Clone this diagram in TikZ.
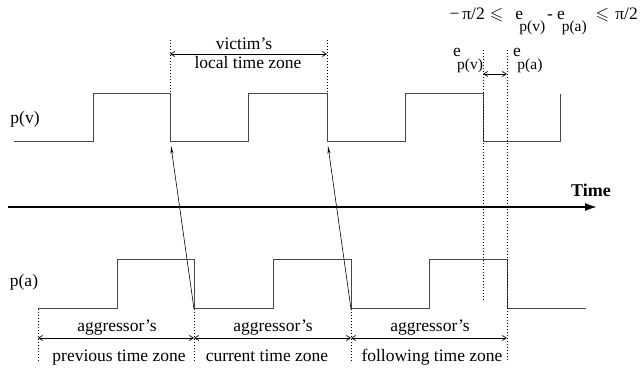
\documentclass[tikz,border=0pt]{standalone}
\usepackage{amssymb}
\usepackage{fontspec}
\setmainfont{Liberation Serif}
\usetikzlibrary{arrows.meta}
\newcommand{\subfnt}{\fontsize{15.5}{18}\selectfont}
\begin{document}
\begin{tikzpicture}[x=1pt,y=-1pt,
  sig/.style={draw=black!72,line width=1pt},
  dots/.style={dash pattern=on 0.8pt off 2.2pt,line width=0.7pt},
  zonearrow/.style={{Straight Barb[length=4pt,width=5pt]}-{Straight Barb[length=4pt,width=5pt]},line width=0.7pt},
  cause/.style={-{Stealth[length=8pt,width=3pt]},line width=0.6pt},
  timeaxis/.style={line width=2.6pt,-{Latex[length=13pt,width=8pt]}},
  lbl/.style={font=\fontsize{17.5}{20}\selectfont,inner sep=0pt}]
\useasboundingbox (0,0) rectangle (640,371);

% formula
\node[lbl,anchor=base east] (formula) at (638,20)
  {−\,π/2\hspace{5pt}$\leqslant$\hspace{12pt}e\kern-3.8pt\raisebox{-12pt}{\subfnt p(v)}\hspace{2pt}-\hspace{4pt}e\kern-3pt\raisebox{-12pt}{\subfnt p(a)}\hspace{9pt}$\leqslant$\hspace{6pt}π/2};

% signal p(v)
\node[lbl,anchor=base] (pv) at (25,124) {p(v)};
\draw[sig] (14,142) -- (93,142) -- (93,94) -- (170,94) -- (170,142) -- (248,142) -- (248,94)
  -- (327,94) -- (327,142) -- (405,142) -- (405,94) -- (483,94) -- (483,142) -- (560,142) -- (560,94);

% signal p(a)
\node[lbl,anchor=base] (pa) at (24,287) {p(a)};
\draw[sig] (38,309) -- (117,309) -- (117,260) -- (194,260) -- (194,309) -- (273,309) -- (273,260)
  -- (351,260) -- (351,309) -- (429,309) -- (429,260) -- (507,260) -- (507,309) -- (586,309);

% time axis
\coordinate (t0) at (8,207);
\coordinate (t1) at (598,207);
\draw[timeaxis] (t0) -- (t1);
\node[lbl,anchor=base,font=\fontsize{18}{20}\selectfont\bfseries] (time) at (591,197) {Time};

% victim's zone
\coordinate (v0) at (170,40); \coordinate (v0b) at (170,94);
\coordinate (v1) at (327,40); \coordinate (v1b) at (327,94);
\draw[dots] (v0) -- (v0b);
\draw[dots] (v1) -- (v1b);
\coordinate (va) at (170,54); \coordinate (vb) at (327,54);
\draw[zonearrow] (va) -- (vb);
\node[lbl,anchor=base] (victim) at (244,50) {victim’s};
\node[lbl,anchor=base] (localzone) at (248,69) {local time zone};

% e labels
\coordinate (ev0) at (483,50); \coordinate (ev1) at (483,302);
\coordinate (ea0) at (507,50); \coordinate (ea1) at (507,362);
\draw[dots] (ev0) -- (ev1);
\draw[dots] (ea0) -- (ea1);
\coordinate (eva) at (483,74); \coordinate (eaa) at (507,74);
\draw[zonearrow] (eva) -- (eaa);
\node[lbl,anchor=base west] (epv) at (453,57) {e\kern-3.8pt\raisebox{-13pt}{\subfnt p(v)}};
\node[lbl,anchor=base west] (epa) at (513,57) {e\kern-3.5pt\raisebox{-13pt}{\subfnt p(a)}};

% causal arrows
\coordinate (c1s) at (194,309); \coordinate (c1e) at (171,146);
\coordinate (c2s) at (351,309); \coordinate (c2e) at (328,146);
\draw[cause] (c1s) -- (c1e);
\draw[cause] (c2s) -- (c2e);

% aggressor zones
\coordinate (z0) at (38,309); \coordinate (z0b) at (38,362);
\coordinate (z1) at (194,309); \coordinate (z1b) at (194,362);
\coordinate (z2) at (351,309); \coordinate (z2b) at (351,362);
\draw[dots] (z0) -- (z0b);
\draw[dots] (z1) -- (z1b);
\draw[dots] (z2) -- (z2b);
\coordinate (a0) at (38,338); \coordinate (a1) at (194,338);
\coordinate (a2) at (351,338); \coordinate (a3) at (507,338);
\draw[zonearrow] (a0) -- (a1);
\draw[zonearrow] (a1) -- (a2);
\draw[zonearrow] (a2) -- (a3);
\node[lbl,anchor=base] (ag1) at (117,331) {aggressor’s};
\node[lbl,anchor=base] (ag2) at (273,331) {aggressor’s};
\node[lbl,anchor=base] (ag3) at (430,331) {aggressor’s};
\node[lbl,anchor=base] (prev) at (119,361) {previous time zone};
\node[lbl,anchor=base] (curr) at (267,361) {current time zone};
\node[lbl,anchor=base] (foll) at (432,361) {following time zone};
\end{tikzpicture}
\end{document}
